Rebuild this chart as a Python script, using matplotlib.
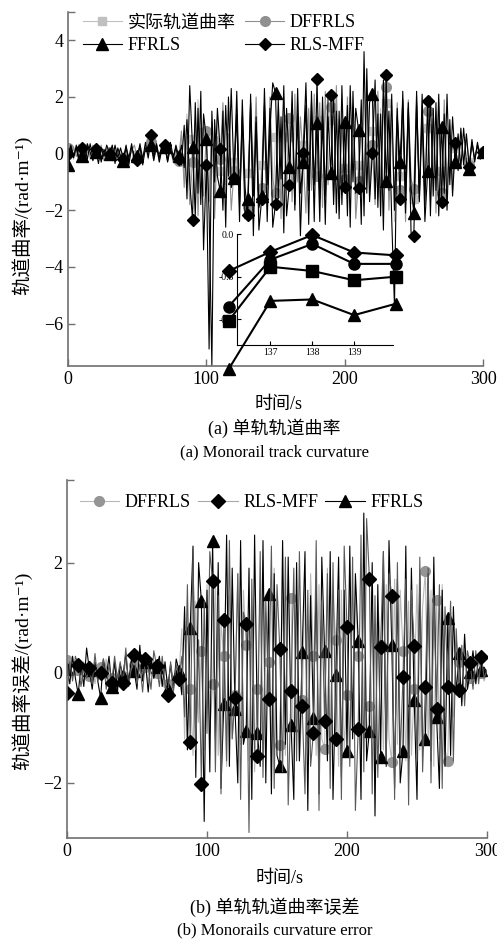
import numpy as np
import matplotlib
matplotlib.use('Agg')
import matplotlib.pyplot as plt

plt.rcParams['font.family'] = ['Liberation Serif', 'Noto Sans CJK SC', 'DejaVu Serif']
plt.rcParams['axes.unicode_minus'] = True

# time axis, 2 s per sample
t = np.arange(0, 301, 2)

# (a) track curvature, rad/m
a_ref = [0.10, 0.15, -0.20, 0.10, -0.15, 0.20, -0.10, 0.25, -0.20, 0.05,
         0.10, 0.20, -0.25, 0.15, -0.10, 0.05, -0.20, 0.25, -0.05, 0.15,
         -0.10, 0.15, -0.25, 0.20, -0.15, -0.05, 0.30, -0.10, 0.20, -0.20,
         0.45, -0.15, 0.20, -0.10, 0.25, 0.15, -0.20, 0.30, -0.15, 0.10,
         -0.15, 0.60, -0.90, 1.40, -1.30, 0.50, -1.70, 1.90, -1.10, 1.30,
         0.60, -1.40, 0.90, -1.80, 1.20, -0.60, 1.20, -1.40, 1.60, -0.80,
         -0.30, 1.30, -1.60, 1.50, -0.80, -0.70, 1.70, -1.20, 1.50, -2.20,
         -0.40, 1.80, -1.50, 1.20, -2.00, 0.60, 1.30, -1.70, 2.00, -1.40,
         0.60, 1.80, -1.50, 1.80, -2.20, 0.30, 2.00, -1.00, 1.40, -1.80,
         1.20, -1.30, 1.60, -2.00, 1.50, 1.20, -1.60, 1.80, -1.50, 1.70,
         -0.50, 1.40, -2.00, 1.50, -1.90, -0.40, 1.40, -1.80, 2.30, -1.50,
         0.80, 2.00, -1.60, 1.60, -2.20, 1.80, -1.60, 1.70, -2.40, 1.40,
         -0.80, 1.60, -1.80, 1.40, -1.50, -1.60, 1.80, -1.30, 1.50, -1.60,
         0.90, -1.80, 1.40, -1.70, 1.80, -0.60, 1.60, -1.60, 1.00, -1.30,
         0.20, -0.40, 0.70, -0.30, 0.60, -0.30, 0.40, -0.20, 0.30, -0.10,
         0.05]
a_df = [0.20, -0.20, 0.25, -0.10, 0.15, 0.10, -0.25, 0.20, -0.10, 0.30,
        0.10, -0.15, 0.30, -0.25, 0.10, 0.05, 0.20, -0.20, 0.15, -0.30,
        -0.15, 0.25, -0.20, 0.10, 0.30, -0.15, 0.20, -0.25, 0.30, -0.05,
        0.40, -0.20, 0.15, -0.25, 0.30, 0.20, -0.15, 0.25, -0.30, 0.10,
        -0.25, 0.80, -1.20, 0.60, -1.80, -0.30, 1.20, -2.20, 0.90, -1.50,
        0.79, -1.70, 1.10, -2.30, 0.60, -0.20, 1.80, -1.10, 0.70, -2.00,
        -0.60, 1.60, -1.90, 0.80, -1.40, -1.90, 1.40, -0.70, 2.00, -1.60,
        -1.20, 1.20, -2.00, 2.00, -0.90, -1.40, 1.50, -2.30, 1.20, -0.90,
        1.26, -1.70, 2.10, -1.00, 1.30, -0.20, -2.10, 1.60, -1.30, 2.10,
        -0.80, 1.80, -1.90, 2.20, -1.10, 1.65, -1.40, 2.40, -2.00, 1.10,
        -0.90, 2.00, -1.30, 1.70, -2.30, -0.98, 1.60, -1.60, 2.60, -1.20,
        0.30, -1.80, 2.20, -1.10, 1.50, 2.34, -2.00, 1.20, -1.70, 1.80,
        -1.30, 1.40, -2.40, 1.90, -0.90, -1.25, 2.00, -1.40, 1.70, -1.20,
        1.50, -1.60, 1.20, -2.10, 1.60, -1.40, 1.90, -1.20, 0.80, -1.10,
        0.30, -0.50, 0.60, -0.30, 0.50, -0.40, 0.30, -0.20, 0.20, 0.00,
        0.05]
a_ff = [-0.39, 0.30, -0.10, 0.20, -0.30, -0.10, 0.25, -0.20, 0.35, -0.15,
        0.05, 0.25, -0.30, 0.15, -0.20, 0.00, 0.30, -0.35, 0.20, -0.10,
        -0.25, 0.20, -0.15, 0.35, -0.30, -0.10, 0.25, -0.40, 0.20, 0.10,
        0.32, -0.25, 0.35, -0.15, 0.25, 0.25, -0.30, 0.20, -0.20, 0.30,
        -0.10, -0.40, 1.00, -1.60, 2.40, 0.25, -2.20, 1.60, -1.80, 1.40,
        0.52, -2.10, -7.50, 1.20, -0.80, -1.32, 1.50, -2.60, 2.00, -1.20,
        -0.85, 2.20, -1.70, 1.30, -2.30, -1.60, 1.80, -2.90, 1.10, -1.90,
        -1.50, 1.70, -2.40, 0.90, 2.50, 2.15, -1.60, 1.30, -2.80, 1.60,
        -0.46, 1.50, -2.00, 2.30, -1.40, -0.30, 1.70, -2.50, 2.20, -1.10,
        1.08, -2.40, 2.00, -1.50, 1.30, -0.68, 2.20, -2.10, 1.50, -1.80,
        1.10, -2.20, 2.40, -1.00, 1.60, 0.85, -2.50, 3.60, -1.40, 1.80,
        2.12, -1.60, 1.40, -2.20, 2.60, -0.95, 1.50, -2.30, -5.40, 1.30,
        -0.30, 1.90, -2.10, 1.60, -1.20, -2.10, 2.20, -1.70, 1.30, -2.40,
        -0.62, 2.00, -1.50, 1.80, -2.20, 0.95, -1.40, 2.10, -1.10, 1.30,
        -0.28, 0.70, -0.50, 0.90, -0.30, -0.56, 0.40, -0.20, 0.30, -0.10,
        0.05]
a_mff = [0.00, 0.25, -0.15, 0.30, -0.20, 0.20, -0.30, 0.35, 0.05, -0.25,
         0.15, -0.35, 0.20, -0.10, 0.30, 0.00, -0.25, 0.30, -0.15, 0.20,
         -0.20, 0.30, -0.40, 0.25, -0.10, -0.22, 0.35, -0.20, 0.40, -0.15,
         0.65, -0.10, 0.30, -0.30, 0.20, 0.32, -0.25, 0.40, -0.10, 0.20,
         -0.20, 0.30, -0.50, 1.20, -1.00, -2.33, 1.80, -1.40, 2.20, -3.40,
         -0.40, -6.90, 1.50, -1.00, 1.60, 0.15, -2.00, 1.70, -0.80, 2.30,
         -0.87, 1.40, -2.40, 1.90, -1.20, -2.18, 2.10, -1.50, 1.30, -2.70,
         -1.60, 2.30, -1.10, 1.60, -2.60, -1.77, 1.90, -0.90, 2.40, -2.20,
         -1.10, 2.20, -1.80, 1.40, -2.90, 0.02, 2.50, -1.30, 1.80, -2.40,
         2.65, -1.60, 1.20, -2.50, 2.00, 2.06, -1.80, 1.50, -2.30, 2.40,
         -1.18, 1.70, -2.60, 2.20, -1.40, -1.22, 1.90, -2.20, 3.00, -1.70,
         0.02, 2.60, -1.90, 1.40, -2.70, 2.76, -1.30, 2.10, -2.00, 1.60,
         -1.60, 2.20, -1.40, 1.80, -2.80, -2.90, 1.70, -1.60, 2.10, -1.80,
         1.85, -2.20, 1.60, -1.30, 2.10, -1.72, 1.40, -2.00, 1.20, -1.50,
         0.38, -0.60, 0.90, -0.40, 0.70, -0.47, 0.50, -0.30, 0.40, -0.20,
         0.05]

# (a) zoomed window 136-140 s
ins_t = [136, 137, 138, 139, 140]
ins_ref = [-0.61, -0.23, -0.26, -0.325, -0.30]
ins_df = [-0.51, -0.18, -0.07, -0.21, -0.21]
ins_ff = [-0.95, -0.47, -0.46, -0.57, -0.49]
ins_mff = [-0.26, -0.125, -0.007, -0.13, -0.15]

# (b) curvature error, rad/m
b_df = [0.23, -0.10, 0.15, -0.05, 0.05, -0.15, 0.20, -0.10,
        -0.05, 0.15, -0.20, 0.10, 0.10, -0.10, 0.25, -0.15,
        -0.10, 0.20, -0.15, 0.05, -0.05, 0.20, -0.10, 0.15,
        0.15, -0.20, 0.10, -0.05, 0.10, -0.15, 0.20, -0.10,
        0.00, 0.15, -0.20, 0.10, -0.20, 0.15, -0.10, 0.05,
        -0.05, 0.80, -1.20, 1.10, -0.30, -1.50, 1.30, -0.90,
        0.40, -1.40, 1.60, -1.10, -0.20, 1.70, -1.50, 0.90,
        0.30, -1.70, 1.40, -1.20, -0.40, 1.80, -1.30, 1.50,
        0.50, -1.60, 1.20, -1.80, -0.30, 1.50, -1.70, 1.10,
        0.20, -1.40, 1.90, -1.20, -1.32, 1.60, -1.50, 1.20,
        1.36, -1.80, 1.10, -1.60, -0.50, 1.70, -1.30, 1.80,
        0.30, -1.50, 1.60, -1.20, -1.38, 1.90, -1.60, 1.40,
        0.60, -1.70, 1.50, -1.40, -0.40, 1.80, -1.20, 1.60,
        0.30, -1.60, 1.70, -1.30, -0.60, 1.50, -1.80, 1.30,
        0.50, -1.40, 1.60, -1.20, -1.62, 1.70, -1.30, 1.50,
        0.40, -1.60, 1.30, -1.50, -0.30, 1.60, -1.40, 1.20,
        1.84, -1.30, 1.50, -1.70, 1.33, -1.20, 1.60, -1.40,
        -1.60, 1.10, -0.80, 0.60, 0.20, -0.50, 0.40, -0.30,
        -0.10, 0.30, -0.20, 0.25, 0.00, -0.15, 0.05]
b_mff = [-0.37, 0.20, -0.15, 0.30, 0.14, -0.25, 0.10, -0.10,
         0.08, -0.20, 0.35, -0.15, -0.01, 0.25, -0.30, 0.15,
         -0.19, 0.30, -0.10, 0.20, -0.19, 0.45, -0.25, 0.10,
         0.32, -0.20, 0.15, -0.35, 0.25, 0.10, -0.30, 0.40,
         0.13, -0.25, 0.30, -0.20, -0.40, 0.20, -0.35, 0.15,
         -0.11, 0.30, -0.80, 1.60, -1.26, 2.20, -1.40, 0.60,
         -2.02, 1.30, -1.10, 2.20, 1.67, -1.80, 1.40, -2.20,
         0.95, -1.60, 2.40, -1.20, -0.46, 1.80, -2.30, 1.10,
         0.89, -2.90, 1.70, -1.40, -1.51, 2.20, -1.90, 1.30,
         -0.47, 2.30, -2.10, 1.60, 0.43, -1.80, 2.10, -2.40,
         -0.34, 1.90, -1.60, 2.20, -0.61, -2.20, 1.50, -1.70,
         -1.09, 2.40, -2.50, 1.30, -0.88, 1.80, -2.10, 2.00,
         -1.20, 1.50, -2.30, 2.30, 0.83, -1.70, 2.10, -2.50,
         -1.03, 2.50, -1.80, 2.80, 1.71, -2.20, 1.40, -1.90,
         0.47, 2.20, -1.60, 1.80, 1.40, -2.30, 2.00, -1.50,
         -0.07, 1.70, -2.40, 1.50, 0.49, -1.60, 2.10, -1.80,
         -0.26, 1.90, -2.00, 1.40, -0.65, 1.60, -2.10, 1.20,
         -0.25, 1.30, -1.60, 0.80, -0.32, 0.50, -0.60, 0.40,
         0.17, -0.30, 0.40, -0.20, 0.29, -0.10, 0.05]
b_ff = [0.07, -0.20, 0.30, -0.10, -0.39, 0.15, -0.25, 0.45,
        0.05, -0.30, 0.20, -0.15, -0.46, 0.25, -0.10, 0.30,
        -0.26, 0.20, -0.35, 0.15, -0.05, 0.35, -0.20, 0.25,
        0.04, -0.30, 0.50, -0.15, 0.20, -0.35, 0.25, -0.10,
        0.10, 0.30, -0.25, 0.20, -0.29, 0.15, -0.30, 0.25,
        0.04, -0.40, 1.20, -1.40, 0.81, 2.30, -1.90, 2.00,
        1.30, -2.70, 1.50, -1.80, 2.39, -1.20, 2.00, -2.10,
        -0.56, 2.50, -1.70, 1.90, -0.65, -2.00, 2.40, -1.30,
        -1.05, 1.90, -2.30, 2.50, -1.09, -1.70, 2.40, -2.00,
        1.43, -2.20, 1.80, -1.50, -1.69, 2.40, -1.30, 2.10,
        -0.94, -2.30, 2.00, -1.60, 0.38, 2.20, -2.50, 1.40,
        -0.82, 1.70, -2.20, 2.10, 0.40, -1.60, 2.20, -2.30,
        -0.04, 2.10, -1.90, 1.50, -1.42, 2.30, -1.20, 1.80,
        0.58, -2.30, 2.90, -1.60, -1.05, 2.00, -2.60, 1.60,
        -1.53, 2.20, -1.70, 2.40, 0.50, -2.10, 1.70, -2.00,
        -1.42, 2.30, -1.60, 1.90, -0.49, -2.30, 1.80, -1.40,
        -1.20, 1.80, -1.60, 2.10, -0.80, -2.10, 1.50, -1.70,
        1.00, -1.50, 1.20, -0.40, 0.35, -0.60, 0.70, -0.30,
        0.02, 0.40, -0.20, 0.30, 0.05, 0.10, 0.00]

GRAY = '#707070'


def style(ax, ytop, ticksize=13):
    for s in ['top', 'right']:
        ax.spines[s].set_visible(False)
    for s in ['left', 'bottom']:
        ax.spines[s].set_color(GRAY)
        ax.spines[s].set_linewidth(1.2)
    ax.set_yticks([ytop], minor=True)
    ax.tick_params(which='both', direction='in', length=5, width=1,
                   color=GRAY, labelsize=ticksize)


fig = plt.figure(figsize=(4.97, 9.4), dpi=100)

# ---- (a) ----
ax1 = fig.add_axes([68/497, 1-366/940, 415/497, 354/940])
l_ref, = ax1.plot(t, a_ref, color='#c0c0c0', lw=0.8, marker='s', ms=6,
                  mfc='#c0c0c0', mec='#c0c0c0', markevery=5, label='实际轨道曲率')
l_df, = ax1.plot(t, a_df, color='#909090', lw=0.8, marker='o', ms=7,
                 mfc='#909090', mec='#909090', markevery=5, label='DFFRLS')
l_ff, = ax1.plot(t, a_ff, color='black', lw=0.8, marker='^', ms=8,
                 markevery=5, label='FFRLS')
l_mff, = ax1.plot(t, a_mff, color='black', lw=0.8, marker='D', ms=6.5,
                  markevery=5, label='RLS-MFF')
ax1.set_xlim(0, 300)
ax1.set_ylim(-7.5, 5)
ax1.set_xticks([0, 100, 200, 300])
ax1.set_yticks([-6, -4, -2, 0, 2, 4])
style(ax1, 5)
ax1.legend([l_ref, l_ff, l_df, l_mff],
           ['实际轨道曲率', 'FFRLS', 'DFFRLS', 'RLS-MFF'],
           ncol=2, loc='upper left', bbox_to_anchor=(0.035, 0.993),
           frameon=False, fontsize=13, handlelength=2.2, handletextpad=0.3,
           columnspacing=0.5, labelspacing=0.3, borderpad=0,
           borderaxespad=0, numpoints=1)

# zoomed window
axi = fig.add_axes([237/497, 1-345/940, 156/497, 111/940])
axi.set_facecolor('none')
mk = dict(color='black', lw=1.5, ms=8, clip_on=False)
axi.plot(ins_t, ins_ref, marker='s', **mk)
axi.plot(ins_t, ins_df, marker='o', **mk)
axi.plot(ins_t, ins_ff, marker='^', **mk)
axi.plot(ins_t, ins_mff, marker='D', ms=7, color='black', lw=1.5, clip_on=False)
axi.set_xlim(136.2, 139.93)
axi.set_ylim(-0.78, 0.0)
axi.set_xticks([137, 138, 139])
axi.set_yticks([0.0, -0.3, -0.6])
axi.set_yticklabels(['0.0', '-0.3', '-0.6'])
for s in ['top', 'right']:
    axi.spines[s].set_visible(False)
for s in ['left', 'bottom']:
    axi.spines[s].set_linewidth(0.8)
axi.tick_params(direction='in', length=3, width=0.8, labelsize=7, pad=2)

fig.text(22/497, 1-215/940, '轨道曲率/(rad·m⁻¹)', rotation=90,
         ha='center', va='center', fontsize=14)
fig.text(279/497, 1-405/940, '时间/s', ha='center', va='center', fontsize=13)
fig.text(274/497, 1-428/940, '(a) 单轨轨道曲率', ha='center', va='center', fontsize=13)
fig.text(274/497, 1-452/940, '(a) Monorail track curvature', ha='center',
         va='center', fontsize=12)

# ---- (b) ----
ax2 = fig.add_axes([67/497, 1-838/940, 420/497, 358/940])
h_df, = ax2.plot(t, b_df, color='#b8b8b8', lw=0.8, marker='o', ms=7,
                 mfc='#959595', mec='#959595', markevery=4, label='DFFRLS')
h_ff, = ax2.plot(t, b_ff, color='black', lw=0.8, marker='^', ms=8,
                 markevery=4, label='FFRLS')
h_mff, = ax2.plot(t, b_mff, color='#5a5a5a', lw=0.8, marker='D', ms=7,
                  mfc='black', mec='black', markevery=4, label='RLS-MFF')
ax2.set_xlim(0, 300)
ax2.set_ylim(-3, 3.5)
ax2.set_xticks([0, 100, 200, 300])
ax2.set_yticks([-2, 0, 2])
style(ax2, 3.5)
leg2 = ax2.legend([h_df, h_mff, h_ff], ['DFFRLS', 'RLS-MFF', 'FFRLS'],
                  ncol=3, loc='upper left', bbox_to_anchor=(0.03, 0.96),
                  frameon=False, fontsize=13, handlelength=2.2,
                  handletextpad=0.3, columnspacing=0.4, borderpad=0,
                  borderaxespad=0, numpoints=1)
leg2.legend_handles[1].set_color('#a8a8a8')
leg2.legend_handles[1].set_markerfacecolor('black')
leg2.legend_handles[1].set_markeredgecolor('black')

fig.text(22/497, 1-671/940, '轨道曲率误差/(rad·m⁻¹)', rotation=90,
         ha='center', va='center', fontsize=14)
fig.text(280/497, 1-878/940, '时间/s', ha='center', va='center', fontsize=13)
fig.text(275/497, 1-907/940, '(b) 单轨轨道曲率误差', ha='center', va='center', fontsize=13)
fig.text(275/497, 1-930/940, '(b) Monorails curvature error', ha='center',
         va='center', fontsize=12)

fig.savefig('out.png', dpi=100)
